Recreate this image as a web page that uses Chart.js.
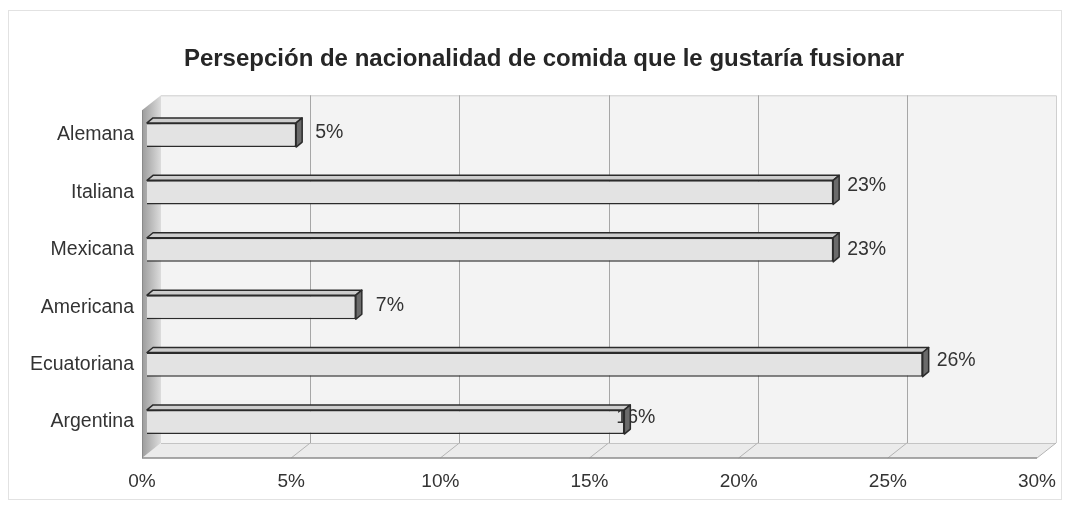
<!DOCTYPE html>
<html>
<head>
<meta charset="utf-8">
<script src="https://cdn.jsdelivr.net/npm/chart.js@4/dist/chart.umd.min.js"></script>
<style>
  html, body { margin: 0; padding: 0; background: #ffffff; }
  #wrap { width: 1068px; height: 506px; position: relative; }
</style>
</head>
<body>
<div id="wrap"><canvas id="c" width="1068" height="506"></canvas></div>
<script>
// Survey: which nationality of food respondents would like to fuse
const chartTitle = 'Persepción de nacionalidad de comida que le gustaría fusionar';
const categories = ['Alemana', 'Italiana', 'Mexicana', 'Americana', 'Ecuatoriana', 'Argentina'];
const percentages = [5, 23, 23, 7, 26, 16];
const axisMin = 0;
const axisMax = 30;
const axisStep = 5;

const FONT = '"Liberation Sans", Arial, sans-serif';
const TEXT = '#333333';

// Pseudo-3D box: back wall, floor, side wall and extruded bar faces
const box3d = {
  id: 'box3d',
  beforeDatasetsDraw(chart, args, opts) {
    const { ctx, chartArea: ca, scales: { x } } = chart;
    const dx = opts.depthX, dy = opts.depthY;
    const fx = v => x.getPixelForValue(v) - opts.planeShift;
    const floorFront = ca.bottom + 7.3;
    const floorBack = floorFront + dy;
    const wallTopFront = ca.top + 4;
    const wallTopBack = wallTopFront + dy;
    const x0 = fx(axisMin), x1 = fx(axisMax);

    ctx.save();
    // back wall
    ctx.fillStyle = '#f3f3f3';
    ctx.fillRect(x0 + dx, wallTopBack, x1 - x0, floorBack - wallTopBack);
    ctx.strokeStyle = '#cfcfcf';
    ctx.lineWidth = 1;
    ctx.beginPath();
    ctx.moveTo(x0 + dx, wallTopBack + 0.5);
    ctx.lineTo(x1 + dx + 0.5, wallTopBack + 0.5);
    ctx.lineTo(x1 + dx + 0.5, floorBack);
    ctx.stroke();

    // vertical gridlines on the back wall
    ctx.strokeStyle = '#a6a6a6';
    for (let v = axisMin + axisStep; v < axisMax; v += axisStep) {
      const gx = Math.round(fx(v) + dx) + 0.5;
      ctx.beginPath();
      ctx.moveTo(gx, wallTopBack);
      ctx.lineTo(gx, floorBack);
      ctx.stroke();
    }

    // floor
    ctx.fillStyle = '#ebebeb';
    ctx.beginPath();
    ctx.moveTo(x0, floorFront);
    ctx.lineTo(x1, floorFront);
    ctx.lineTo(x1 + dx, floorBack);
    ctx.lineTo(x0 + dx, floorBack);
    ctx.closePath();
    ctx.fill();
    ctx.strokeStyle = '#c4c4c4';
    ctx.beginPath();
    ctx.moveTo(x0 + dx, floorBack + 0.5);
    ctx.lineTo(x1 + dx, floorBack + 0.5);
    ctx.stroke();
    ctx.strokeStyle = '#b4b4b4';
    for (let v = axisMin + axisStep; v <= axisMax; v += axisStep) {
      ctx.beginPath();
      ctx.moveTo(fx(v), floorFront);
      ctx.lineTo(fx(v) + dx, floorBack);
      ctx.stroke();
    }
    ctx.strokeStyle = '#8c8c8c';
    ctx.lineWidth = 1.5;
    ctx.beginPath();
    ctx.moveTo(x0, floorFront);
    ctx.lineTo(x1, floorFront);
    ctx.stroke();

    // left side wall
    const g = ctx.createLinearGradient(x0, 0, x0 + dx, 0);
    g.addColorStop(0, '#9c9c9c');
    g.addColorStop(0.35, '#b2b2b2');
    g.addColorStop(1, '#dcdcdc');
    ctx.fillStyle = g;
    ctx.beginPath();
    ctx.moveTo(x0, wallTopFront);
    ctx.lineTo(x0 + dx, wallTopBack);
    ctx.lineTo(x0 + dx, floorBack);
    ctx.lineTo(x0, floorFront);
    ctx.closePath();
    ctx.fill();
    ctx.strokeStyle = '#8a8a8a';
    ctx.lineWidth = 1;
    ctx.beginPath();
    ctx.moveTo(x0 + 0.5, wallTopFront);
    ctx.lineTo(x0 + 0.5, floorFront);
    ctx.stroke();
    ctx.restore();
  },
  afterDatasetsDraw(chart, args, opts) {
    const { ctx } = chart;
    const meta = chart.getDatasetMeta(0);
    const bx = opts.barDepthX, by = opts.barDepthY;
    ctx.save();

    // value labels (drawn first so the bar's side face can overlap them)
    ctx.font = '19.5px ' + FONT;
    ctx.fillStyle = TEXT;
    ctx.textAlign = 'left';
    ctx.textBaseline = 'middle';
    meta.data.forEach((el, i) => {
      const v = chart.data.datasets[0].data[i];
      ctx.fillText(v + '%', el.x + opts.labelDx[i], el.y + opts.labelDy[i]);
    });

    // top and side faces of each bar
    ctx.lineJoin = 'round';
    ctx.lineWidth = 1.5;
    ctx.strokeStyle = '#2b2b2b';
    meta.data.forEach(el => {
      const h = el.height;
      const top = el.y - h / 2, bot = el.y + h / 2;
      const left = el.base, right = el.x;
      ctx.fillStyle = '#cdcdcd';
      ctx.beginPath();
      ctx.moveTo(left, top);
      ctx.lineTo(left + bx, top - by);
      ctx.lineTo(right + bx, top - by);
      ctx.lineTo(right, top);
      ctx.closePath();
      ctx.fill();
      ctx.stroke();
      ctx.fillStyle = '#6b6b6b';
      ctx.beginPath();
      ctx.moveTo(right, top);
      ctx.lineTo(right + bx, top - by);
      ctx.lineTo(right + bx, bot - by);
      ctx.lineTo(right, bot);
      ctx.closePath();
      ctx.fill();
      ctx.stroke();
    });
    ctx.restore();
  },
  afterDraw(chart, args, opts) {
    const { ctx } = chart;
    ctx.save();
    // faint outer frame
    ctx.strokeStyle = '#e2e2e2';
    ctx.lineWidth = 1;
    ctx.strokeRect(8.5, 10.5, 1053, 489);
    // title
    ctx.font = 'bold 24px ' + FONT;
    ctx.fillStyle = '#262626';
    ctx.textAlign = 'center';
    ctx.textBaseline = 'middle';
    ctx.fillText(chartTitle, opts.titleX, opts.titleY);
    ctx.restore();
  }
};

new Chart(document.getElementById('c'), {
  type: 'bar',
  data: {
    labels: categories,
    datasets: [{
      data: percentages,
      backgroundColor: '#e3e3e3',
      borderColor: '#2b2b2b',
      borderWidth: 1.5,
      barPercentage: 0.42,
      categoryPercentage: 1
    }]
  },
  plugins: [box3d],
  options: {
    indexAxis: 'y',
    responsive: false,
    animation: false,
    events: [],
    layout: { padding: { top: 106.3, right: 26, bottom: 0, left: 0 } },
    scales: {
      x: {
        min: axisMin,
        max: axisMax,
        afterFit: s => { s.height = 55.3; s.paddingLeft = 0; s.paddingRight = 0; },
        grid: { display: false, drawTicks: false },
        border: { display: false },
        ticks: {
          stepSize: axisStep,
          padding: 20,
          labelOffset: -5,
          color: TEXT,
          font: { family: FONT, size: 19 },
          callback: v => v + '%'
        }
      },
      y: {
        afterFit: s => { s.width = 147; },
        grid: { display: false, drawTicks: false },
        border: { display: false },
        ticks: {
          padding: 13,
          color: TEXT,
          font: { family: FONT, size: 19.5 }
        }
      }
    },
    plugins: {
      legend: { display: false },
      title: { display: false },
      tooltip: { enabled: false },
      box3d: {
        depthX: 19,
        depthY: -15,
        planeShift: 5,
        barDepthX: 6,
        barDepthY: 5,
        labelDx: [19, 14, 14, 20, 14, -8],
        labelDy: [-2, -7, 0, -2, -4, -4],
        titleX: 544,
        titleY: 59
      }
    }
  }
});
</script>
</body>
</html>
